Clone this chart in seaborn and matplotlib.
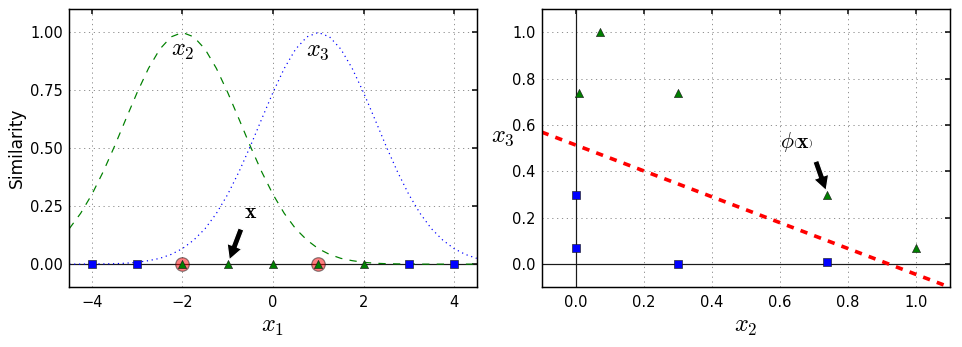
import numpy as np
import pandas as pd
import matplotlib
matplotlib.use("Agg")
import matplotlib.pyplot as plt
import seaborn as sns

# ---- data ----
x1_grid = [-4.5, -4.25, -4.0, -3.75, -3.5, -3.25, -3.0, -2.75, -2.5, -2.25, -2.0,
           -1.75, -1.5, -1.25, -1.0, -0.75, -0.5, -0.25, 0.0, 0.25, 0.5, 0.75,
           1.0, 1.25, 1.5, 1.75, 2.0, 2.25, 2.5, 2.75, 3.0, 3.25, 3.5, 3.75,
           4.0, 4.25, 4.5]
sim_x2 = [0.153, 0.219, 0.301, 0.399, 0.509, 0.626, 0.741, 0.845, 0.928, 0.981, 1.000,
          0.981, 0.928, 0.845, 0.741, 0.626, 0.509, 0.399, 0.301, 0.219, 0.153, 0.104,
          0.067, 0.042, 0.025, 0.015, 0.008, 0.004, 0.002, 0.001, 0.001, 0.000, 0.000,
          0.000, 0.000, 0.000, 0.000]
sim_x3 = [0.000, 0.000, 0.001, 0.001, 0.002, 0.004, 0.008, 0.015, 0.025, 0.042, 0.067,
          0.104, 0.153, 0.219, 0.301, 0.399, 0.509, 0.626, 0.741, 0.845, 0.928, 0.981,
          1.000, 0.981, 0.928, 0.845, 0.741, 0.626, 0.509, 0.399, 0.301, 0.219, 0.153,
          0.104, 0.067, 0.042, 0.025]

landmarks = [-2, 1]
neg_x1 = [-4, -3, 3, 4]
pos_x1 = [-2, -1, 0, 1, 2]

neg_x2 = [0.30, 0.74, 0.00, 0.00]
neg_x3 = [0.00, 0.01, 0.30, 0.07]
pos_x2 = [1.00, 0.74, 0.30, 0.07, 0.01]
pos_x3 = [0.07, 0.30, 0.74, 1.00, 0.74]

boundary_x = [-0.1, 1.1]
boundary_y = [0.57, -0.1]

left_xticks = [-4, -2, 0, 2, 4]
left_yticks = [0, 0.25, 0.5, 0.75, 1]
right_ticks = [0.0, 0.2, 0.4, 0.6, 0.8, 1.0]

# ---- style ----
sns.set_theme(style="white")
plt.rcParams.update({
    "font.family": ["DejaVu Sans"],
    "mathtext.fontset": "cm",
    "xtick.direction": "in",
    "ytick.direction": "in",
    "xtick.top": True,
    "ytick.right": True,
    "xtick.major.size": 4,
    "ytick.major.size": 4,
    "xtick.major.pad": 6,
    "ytick.major.pad": 5,
    "xtick.labelsize": 12,
    "ytick.labelsize": 12,
    "xtick.color": "black",
    "ytick.color": "black",
    "axes.edgecolor": "black",
    "axes.linewidth": 1.2,
    "text.color": "black",
    "axes.labelcolor": "black",
    "lines.scale_dashes": False,
    "lines.dashed_pattern": [6, 6],
    "lines.dotted_pattern": [1, 3],
})

DPI = 87.45
fig = plt.figure(figsize=(962 / DPI, 347 / DPI), dpi=DPI)
ax1 = fig.add_axes([0.0720, 0.1720, 0.4235, 0.8012])
ax2 = fig.add_axes([0.5631, 0.1720, 0.4244, 0.8012])

for ax in (ax1, ax2):
    ax.grid(True, color="0.5", linestyle=":", linewidth=0.7)
    ax.set_axisbelow(True)

MS = 45
arrow_style = dict(facecolor="black", shrink=0.1, width=5, headwidth=13, headlength=12)

# ---- left panel ----
ax1.axhline(0, color="k", linewidth=1.0, zorder=1.5)
ax1.scatter(landmarks, [0] * len(landmarks), s=125, alpha=0.5, c="red",
            edgecolors="k", linewidths=1.0, zorder=2)
sns.lineplot(x=x1_grid, y=sim_x2, ax=ax1, color="green", linestyle="--",
             linewidth=1.0, zorder=2.5)
sns.lineplot(x=x1_grid, y=sim_x3, ax=ax1, color="blue", linestyle=":",
             linewidth=1.0, zorder=2.5)
sns.scatterplot(x=neg_x1, y=[0] * len(neg_x1), ax=ax1, marker="s", color="blue",
                s=MS, edgecolor="k", linewidth=0.5, zorder=3)
sns.scatterplot(x=pos_x1, y=[0] * len(pos_x1), ax=ax1, marker="^", color="green",
                s=MS, edgecolor="k", linewidth=0.5, zorder=3)
ax1.set_xticks(left_xticks)
ax1.set_yticks(left_yticks)
ax1.set_yticklabels([f"{v:.2f}" for v in left_yticks])
ax1.set_xlabel(r"$x_1$", fontsize=20)
ax1.set_ylabel("Similarity", fontsize=14)
ax1.annotate(r"$\mathbf{x}$", xy=(pos_x1[1], 0), xytext=(-0.5, 0.20), ha="center",
             arrowprops=arrow_style, fontsize=18)
ax1.text(landmarks[0], 0.9, r"$x_2$", ha="center", fontsize=20)
ax1.text(landmarks[1], 0.9, r"$x_3$", ha="center", fontsize=20)
ax1.set_xlim(-4.5, 4.5)
ax1.set_ylim(-0.1, 1.1)

# ---- right panel ----
ax2.axhline(0, color="k", linewidth=1.0, zorder=1.5)
ax2.axvline(0, color="k", linewidth=1.0, zorder=1.5)
sns.scatterplot(x=neg_x2, y=neg_x3, ax=ax2, marker="s", color="blue",
                s=MS, edgecolor="k", linewidth=0.5, zorder=3)
sns.scatterplot(x=pos_x2, y=pos_x3, ax=ax2, marker="^", color="green",
                s=MS, edgecolor="k", linewidth=0.5, zorder=3)
sns.lineplot(x=boundary_x, y=boundary_y, ax=ax2, color="red", linestyle="--",
             linewidth=3, zorder=2.5)
ax2.set_xticks(right_ticks)
ax2.set_yticks(right_ticks)
ax2.set_xlabel(r"$x_2$", fontsize=20)
ax2.set_ylabel(r"$x_3$", fontsize=20, rotation=0, labelpad=8)
ax2.annotate(r"$\phi\left(\mathbf{x}\right)$", xy=(pos_x2[1], pos_x3[1]),
             xytext=(0.65, 0.50), ha="center",
             arrowprops=arrow_style, fontsize=18)
ax2.set_xlim(-0.1, 1.1)
ax2.set_ylim(-0.1, 1.1)

fig.savefig("out.png", dpi=DPI)
